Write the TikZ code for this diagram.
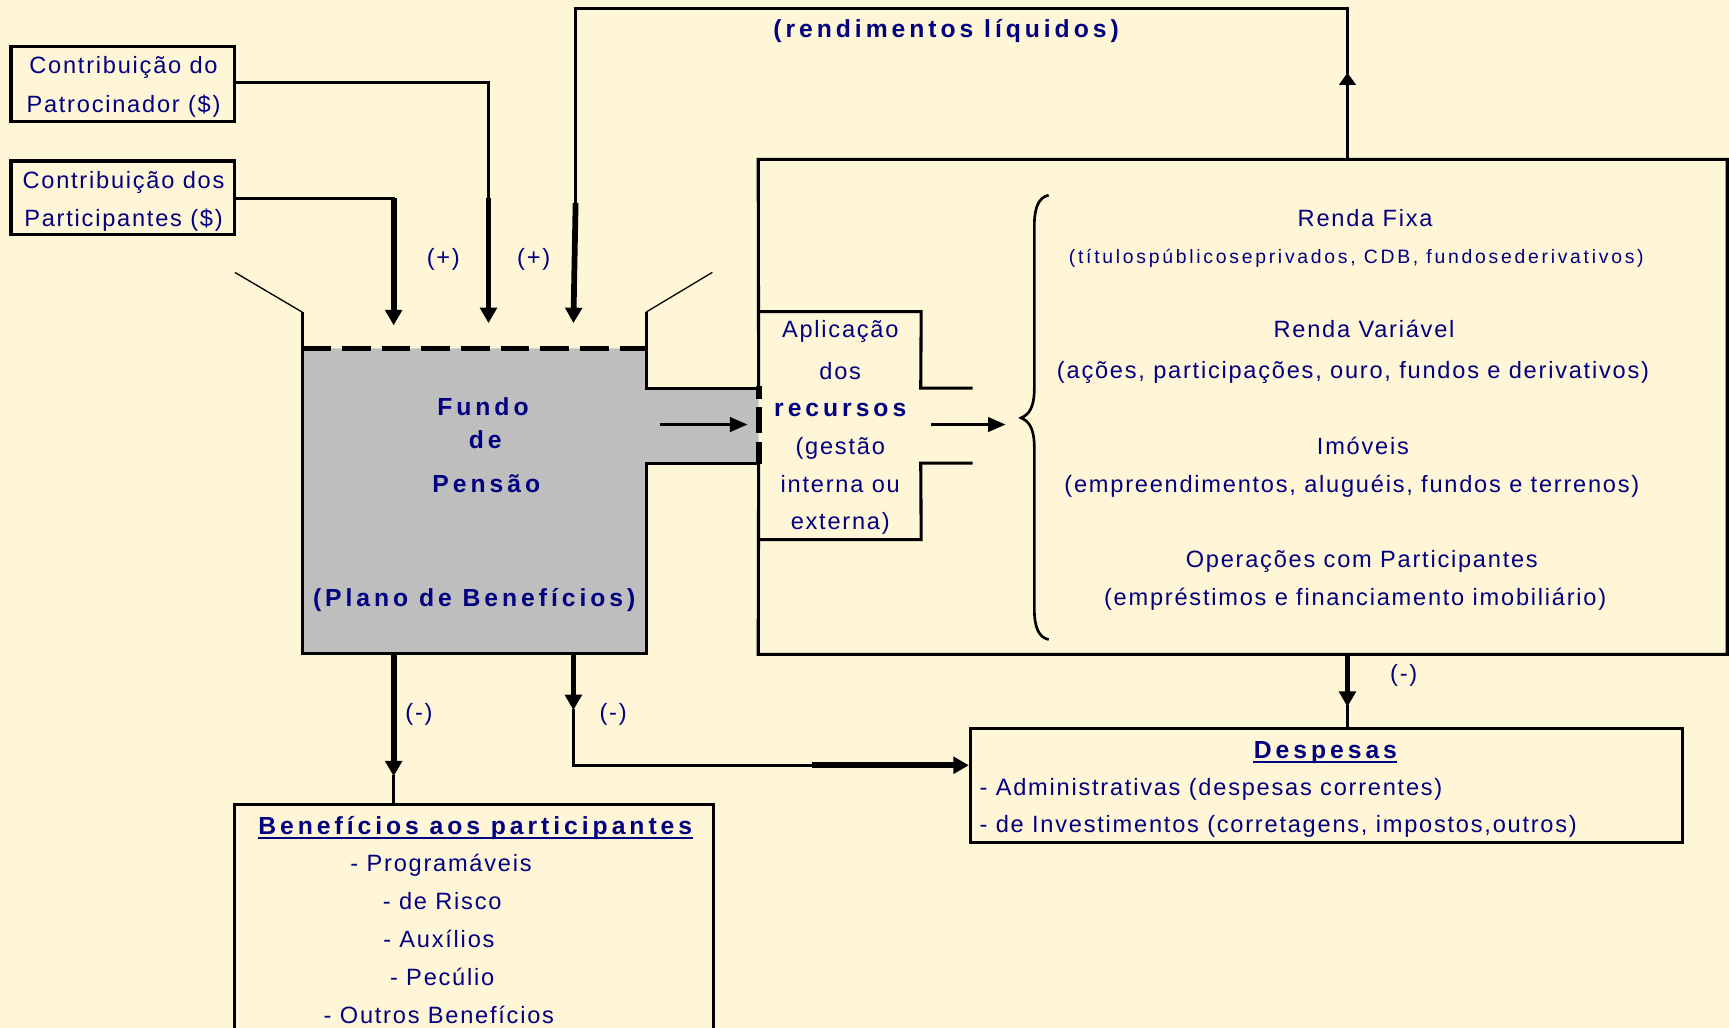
\documentclass[tikz,border=0pt]{standalone}
\usepackage{fontspec}
\setmainfont{Liberation Sans}
\newfontfamily\bodyfont[LetterSpace=7.5]{Liberation Sans}
\newfontfamily\headfont[LetterSpace=16]{Liberation Sans}
\newfontfamily\notefont[LetterSpace=14]{Liberation Sans}
\usetikzlibrary{arrows.meta,fit}
\definecolor{paper}{RGB}{255,245,215}
\definecolor{ink}{RGB}{0,0,128}
\definecolor{fundgray}{RGB}{190,190,190}
\tikzset{
  body/.style={text=ink, inner sep=0pt, anchor=base, font=\bodyfont\fontsize{10.7}{12}\selectfont},
  head/.style={text=ink, inner sep=0pt, anchor=base, font=\headfont\bfseries\fontsize{11.2}{13}\selectfont},
  note/.style={text=ink, inner sep=0pt, anchor=base, font=\notefont\fontsize{8.8}{10}\selectfont},
  boxline/.style={draw=black, line width=1.4pt, inner sep=0pt},
  wire/.style={draw=black, line width=1.4pt, line cap=rect},
  heavywire/.style={draw=black, line width=2.6pt},
  hairline/.style={draw=black, line width=0.6pt},
  tip/.style={-{Triangle[length=7pt,width=7.5pt]}},
  neckarrow/.style={-{Triangle[length=8pt,width=6.5pt]}},
  uline/.style={draw=ink, line width=1pt},
}
\begin{document}
\begin{tikzpicture}[x=0.5pt,y=-0.5pt]
\fill[paper] (0,0) rectangle (1568,932);
\useasboundingbox (0,0) rectangle (1568,932);

% ---- contribution boxes ----
\node[boxline, fit={(10,42)(213,110)}] (pat) {};
\node[body] (pat1) at (112,67) {Contribuição do};
\node[body] (pat2) at (112,102) {Patrocinador (\$)};
\node[boxline, fit={(10,146)(213,213)}] (part) {};
\node[body] (part1) at (112,171) {Contribuição dos};
\node[body] (part2) at (112,205) {Participantes (\$)};

% ---- investment frame ----
\node[fit={(688,145)(1566,593)}, inner sep=0pt] (big) {};
\draw[boxline] (688,352) -- (big.north west) -- (big.north east)
  -- (big.south east) -- (big.south west) -- (688,420);

% ---- fund tank ----
\coordinate (tl) at (274,316);
\coordinate (tr) at (586,316);
\coordinate (bl) at (274,593);
\coordinate (br) at (586,593);
\fill[fundgray] (tl) -- (tr) -- (586,352) -- (688,352) -- (688,420)
  -- (586,420) -- (br) -- (bl) -- cycle;
\draw[boxline] (274,283) -- (bl) -- (br) -- (586,420) -- (688,420);
\draw[boxline] (586,283) -- (586,352) -- (688,352);
\draw[black, line width=2.4pt, dash pattern=on 13pt off 5pt] (tl) -- (tr);
\draw[hairline] (213,247) -- (274,283);
\draw[hairline] (646,247) -- (586,283);
% dashed wall between tank neck and the investment frame
\draw[black, line width=2.6pt] (688,350) -- (688,362);
\draw[black, line width=2.6pt] (688,369) -- (688,393);
\draw[black, line width=2.6pt] (688,401) -- (688,421);

\node[head] (f1) at (438,377) {Fundo};
\node[head] (f2) at (440,407) {de};
\node[head] (f3) at (441,447) {Pensão};
\node[head] (f4) at (430,550) {(Plano de Benefícios)};

% ---- application box ----
\node[fit={(688,283)(835,489)}, inner sep=0pt] (apl) {};
\draw[boxline] (apl.north west) -- (apl.north east) -- (835,352) -- (882,352);
\draw[boxline] (882,420) -- (835,420) -- (apl.south east) -- (apl.south west);
\node[body] (a1) at (762,306) {Aplicação};
\node[body] (a2) at (762,344) {dos};
\node[head] (a3) at (762,378) {recursos};
\node[body] (a4) at (762,412) {(gestão};
\node[body] (a5) at (762,447) {interna ou};
\node[body] (a6) at (762,480) {externa)};

\coordinate (neckfrom) at (600,385);
\coordinate (neckto) at (678,385);
\draw[wire, neckarrow] (neckfrom) -- (neckto);
\coordinate (aplfrom) at (846,385);
\coordinate (aplto) at (912,385);
\draw[wire, neckarrow] (aplfrom) -- (aplto);

% ---- brace and asset classes ----
\draw[black, line width=1.2pt]
  (951,177) .. controls (942,179) and (938,188) .. (938,205)
  -- (938,352) .. controls (938,370) and (933,376) .. (926,379)
  .. controls (933,382) and (938,388) .. (938,406)
  -- (938,552) .. controls (938,569) and (942,578) .. (951,580);

\node[body] (r1) at (1238,205) {Renda Fixa};
\node[note] (r2) at (1230,239) {(títulospúblicoseprivados, CDB, fundosederivativos)};
\node[body] (r3) at (1237,306) {Renda Variável};
\node[body] (r4) at (1227,343) {(ações, participações, ouro, fundos e derivativos)};
\node[body] (r5) at (1236,412) {Imóveis};
\node[body] (r6) at (1226,447) {(empreendimentos, aluguéis, fundos e terrenos)};
\node[body] (r7) at (1235,515) {Operações com Participantes};
\node[body] (r8) at (1229,549) {(empréstimos e financiamento imobiliário)};

% ---- inflows ----
\coordinate (patbend) at (443,75);
\coordinate (patheavy) at (443,180);
\coordinate (pattip) at (443,293);
\draw[wire] (pat.east |- patbend) -- (patbend) -- (patheavy);
\draw[heavywire, tip] (patheavy) -- (pattip);

\coordinate (partbend) at (357,180);
\coordinate (parttip) at (357,295);
\draw[wire] (part.east |- partbend) -- (partbend);
\draw[heavywire, tip] (partbend) -- (parttip);

\coordinate (rendup) at (1222,66);
\coordinate (rendtr) at (1222,8);
\coordinate (rendtl) at (522,8);
\coordinate (rendheavy) at (522,184);
\coordinate (rendtip) at (520,293);
\draw[black, line width=1.8pt, -{Triangle[length=5.5pt,width=7.5pt]}] (big.north -| rendup) -- (rendup);
\draw[wire] (rendup) -- (rendtr) -- (rendtl) -- (rendheavy);
\draw[heavywire, tip] (rendheavy) -- (rendtip);

\node[body] (plus1) at (402,241) {(+)};
\node[body] (plus2) at (484,241) {(+)};
\node[head] (rend) at (858,34) {(rendimentos líquidos)};

% ---- expenses ----
\node[boxline, fit={(880,661)(1526,764)}] (desp) {};
\node[head] (d0) at (1202,688) {Despesas};
\draw[uline] ([yshift=-1.6pt]d0.base west) -- ([yshift=-1.6pt]d0.base east);
\node[body, anchor=base west] (d1) at (888,721) {- Administrativas (despesas correntes)};
\node[body, anchor=base west] (d2) at (888,755) {- de Investimentos (corretagens, impostos,outros)};

\coordinate (desptip) at (1222,641);
\draw[heavywire, tip] (big.south -| desptip) -- (desptip);
\draw[wire] (desptip) -- (desp.north -| desptip);
\node[body] (minus3) at (1273,618) {(-)};

% ---- benefits ----
\node[fit={(213,730)(647,960)}, inner sep=0pt] (ben) {};
\draw[boxline] (ben.south west) -- (ben.north west) -- (ben.north east) -- (ben.south east);
\node[head] (b0) at (431,757) {Benefícios aos participantes};
\draw[uline] ([yshift=-1.6pt]b0.base west) -- ([yshift=-1.6pt]b0.base east);
\node[body] (b1) at (400,790) {- Programáveis};
\node[body] (b2) at (401,825) {- de Risco};
\node[body] (b3) at (398,859) {- Auxílios};
\node[body] (b4) at (401,894) {- Pecúlio};
\node[body] (b5) at (398,928) {- Outros Benefícios};

% ---- outflows ----
\coordinate (bentip) at (357,704);
\draw[heavywire, tip] (bl -| bentip) -- (bentip);
\draw[wire] (bentip) -- (ben.north -| bentip);
\node[body] (minus1) at (380,653) {(-)};

\coordinate (outtip) at (520,644);
\coordinate (outbend) at (520,694);
\coordinate (outheavy) at (736,694);
\draw[heavywire, tip] (bl -| outtip) -- (outtip);
\draw[wire] (outtip) -- (outbend) -- (outheavy);
\draw[heavywire, tip] (outheavy) -- (desp.west |- outheavy);
\node[body] (minus2) at (556,653) {(-)};
\end{tikzpicture}
\end{document}
